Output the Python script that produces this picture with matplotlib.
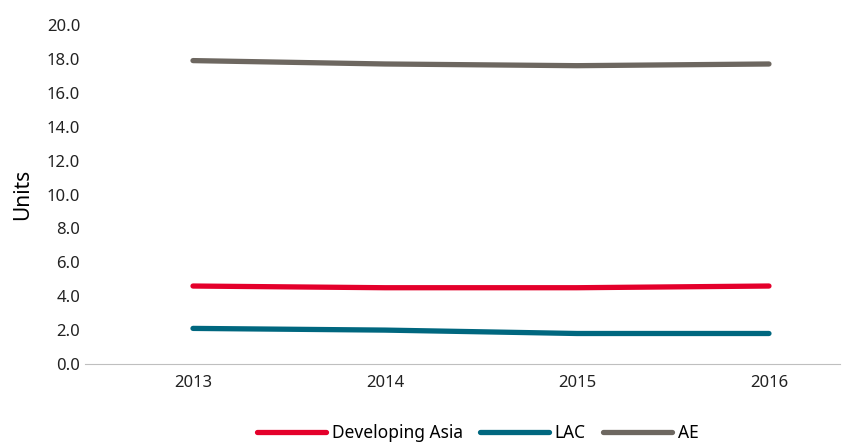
import matplotlib
matplotlib.use('Agg')
import matplotlib.pyplot as plt

years = ["2013", "2014", "2015", "2016"]
dev_asia = [4.6, 4.5, 4.5, 4.6]
lac = [2.1, 2.0, 1.8, 1.8]
ae = [17.9, 17.7, 17.6, 17.7]

plt.rcParams['font.family'] = ['Noto Sans', 'DejaVu Sans']

fig = plt.figure(figsize=(8.48, 4.44), dpi=100)
ax = fig.add_axes([85/848, 1-364/444, 755/848, 339/444])
x = range(len(years))
ax.plot(x, dev_asia, color='#e4002b', lw=3.8, label='Developing Asia', solid_capstyle='round')
ax.plot(x, lac, color='#00677f', lw=3.8, label='LAC', solid_capstyle='round')
ax.plot(x, ae, color='#6d6760', lw=3.8, label='AE', solid_capstyle='round')

ax.set_xlim(-0.5625, 3.37)
ax.set_ylim(0, 20)
ax.set_yticks([i * 2 for i in range(11)])
ax.set_yticklabels([f"{i*2:.1f}" for i in range(11)])
ax.set_xticks(list(x))
ax.set_xticklabels(years)
ax.tick_params(length=0, labelsize=12, colors='#222222')
ax.tick_params(axis='x', pad=8)
for s in ['top', 'right', 'left']:
    ax.spines[s].set_visible(False)
ax.spines['bottom'].set_color('#bfbfbf')
ax.set_ylabel("Units", fontsize=15, labelpad=10)
ax.legend(loc='upper center', bbox_to_anchor=(0.52, -0.13), ncol=3, frameon=False,
          fontsize=12.5, handlelength=4, columnspacing=1.0, handletextpad=0.3)
fig.savefig("out.png", dpi=100)
